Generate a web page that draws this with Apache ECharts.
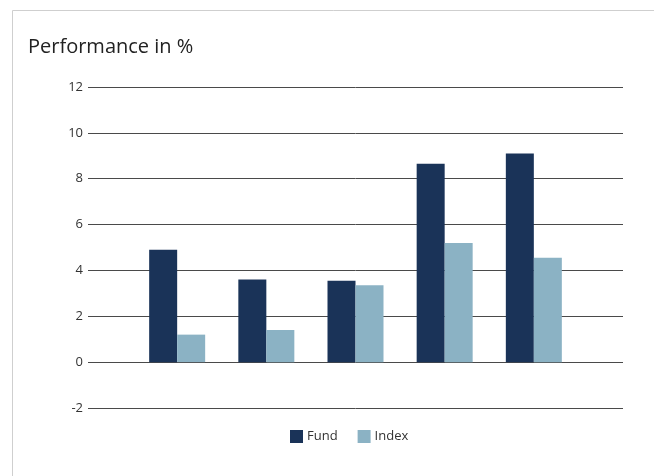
<!DOCTYPE html>
<html>
<head>
<meta charset="utf-8">
<script src="https://cdn.jsdelivr.net/npm/echarts@6/dist/echarts.min.js"></script>
<style>
  html, body { margin: 0; padding: 0; background: #fff; }
  #chart { width: 654px; height: 476px; }
</style>
</head>
<body>
<div id="chart"></div>
<script>
// periods are not labelled in the source, padded with empty slots at both ends
const categories = ['', 'YTD', '1 Year', '3 Years', '5 Years', 'Since Inception', ''];
const fundValues = [null, 4.9, 3.6, 3.55, 8.65, 9.1, null];
const indexValues = [null, 1.2, 1.4, 3.35, 5.2, 4.55, null];
const yTicks = { min: -2, max: 12, interval: 2 };

const chart = echarts.init(document.getElementById('chart'));

const font = '"Open Sans", "Noto Sans", sans-serif';

const option = {
  backgroundColor: '#fff',
  animation: false,
  graphic: [
    {
      type: 'rect',
      left: 10,
      top: 8,
      shape: { width: 700, height: 500 },
      style: { fill: 'none', stroke: '#cfcfcf', lineWidth: 1 },
      silent: true
    }
  ],
  title: {
    text: 'Performance in %',
    left: 23,
    top: 32,
    textStyle: {
      fontFamily: font,
      fontSize: 20,
      fontWeight: 'normal',
      color: '#222'
    }
  },
  legend: {
    top: 430,
    left: 290,
    padding: 0,
    itemWidth: 13,
    itemHeight: 13,
    itemGap: 20,
    icon: 'rect',
    textStyle: { fontFamily: font, fontSize: 13, color: '#333', padding: [0, 0, 0, -1] },
    data: ['Fund', 'Index']
  },
  grid: {
    left: 88,
    right: 31,
    top: 87,
    bottom: 68,
    containLabel: false
  },
  xAxis: {
    type: 'category',
    data: categories,
    boundaryGap: false,
    axisLine: { show: false },
    axisTick: { show: false },
    axisLabel: { show: false },
    splitLine: { show: false }
  },
  yAxis: {
    type: 'value',
    min: yTicks.min,
    max: yTicks.max,
    interval: yTicks.interval,
    axisLine: { show: false },
    axisTick: { show: false },
    axisLabel: {
      margin: 5,
      fontFamily: font,
      fontSize: 13,
      color: '#333'
    },
    splitLine: {
      lineStyle: { color: '#4a4a4a', width: 1 }
    }
  },
  series: [
    {
      name: 'Fund',
      type: 'bar',
      data: fundValues,
      barWidth: 28,
      barGap: '0%',
      itemStyle: { color: '#1a3358' }
    },
    {
      name: 'Index',
      type: 'bar',
      data: indexValues,
      barWidth: 28,
      itemStyle: { color: '#8bb2c4' }
    }
  ]
};

chart.setOption(option);
</script>
</body>
</html>
